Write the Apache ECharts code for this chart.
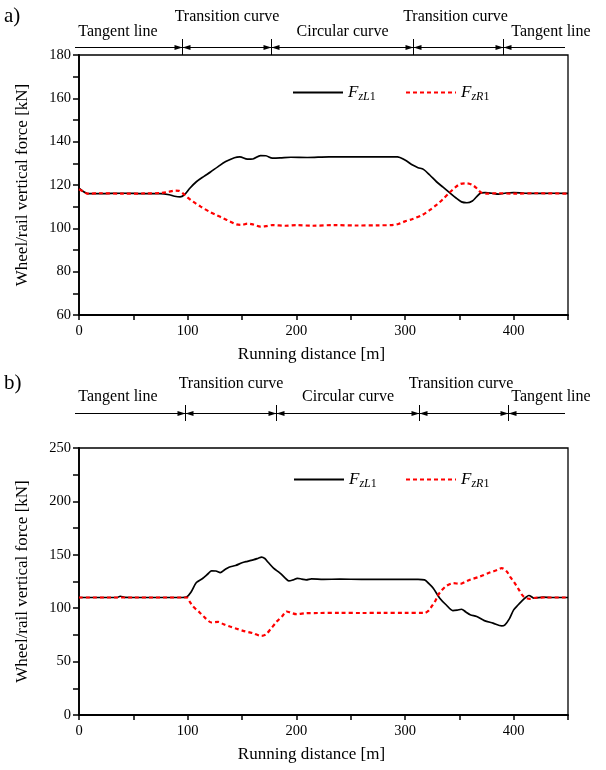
<!DOCTYPE html>
<html>
<head>
<meta charset="utf-8">
<script src="https://cdn.jsdelivr.net/npm/echarts@6/dist/echarts.min.js"></script>
<style>html,body{margin:0;padding:0;background:#fff}#c{width:606px;height:770px}</style>
</head>
<body>
<div id="c"></div>
<script>
// ---------- data ----------
var segmentNames = ['Tangent line', 'Transition curve', 'Circular curve', 'Transition curve', 'Tangent line'];
var boundsA = [95, 177, 307, 390];
var boundsB = [98, 181, 313, 395];

var xTicks = [0, 100, 200, 300, 400];
var yTicksA = [60, 80, 100, 120, 140, 160, 180];
var yTicksB = [0, 50, 100, 150, 200, 250];

var FzL1_a = [[0,118.5],[4,117],[8,116],[20,116],[40,116.2],[60,116],[75,116],[83,115.5],[88,114.8],[93,114.5],[97,115.5],[102,118.5],[108,121.5],[115,124],[121,126],[128,128.5],[135,130.8],[143,132.6],[148,133],[155,131.9],[160,132],[167,133.6],[172,133.5],[178,132.4],[185,132.5],[195,132.8],[210,132.7],[230,133],[250,133],[270,133],[285,133],[293,133],[300,131.5],[307,129.2],[312,128],[317,127.2],[323,124.5],[329,121.5],[335,119],[341,116.5],[347,114],[352,112.2],[357,111.8],[362,112.6],[366,114.6],[370,116.4],[374,116.5],[380,116.2],[386,115.8],[393,116.3],[400,116.5],[410,116.2],[420,116.1],[435,116.2],[450,116.1]];
var FzR1_a = [[0,118],[4,117],[8,116],[20,116.2],[40,116],[60,116.1],[75,116.3],[82,116.8],[88,117.4],[92,117.3],[96,116],[100,114.2],[105,112.3],[112,110],[120,107.7],[127,106],[133,104.6],[139,103.2],[145,101.8],[150,101.6],[155,102.2],[160,101.8],[167,100.8],[172,101],[178,101.5],[190,101.2],[200,101.5],[215,101.2],[235,101.5],[255,101.3],[275,101.4],[288,101.5],[294,102],[300,103.2],[307,104.3],[316,106.2],[323,108.5],[329,110.8],[335,113.5],[341,116.5],[346,118.8],[351,120.5],[357,120.8],[362,120],[366,118.5],[370,116.5],[375,116],[385,116.2],[400,116],[420,116.2],[450,116]];
var FzL1_b = [[0,110],[20,110],[35,110],[38,111.2],[42,110.2],[60,110],[80,110],[95,110],[99,110.5],[103,115],[108,124],[114,128],[119,132.5],[122,135],[126,134.8],[130,133.4],[134,136],[138,138.4],[144,140],[150,142.5],[155,143.9],[161,145.5],[165,146.8],[168,147.8],[171,146.5],[174,143],[179,137.5],[185,132.8],[190,128],[193,125.6],[197,126.5],[201,128],[205,127.3],[209,126.6],[214,127.5],[225,127],[240,127.2],[260,127],[280,127.1],[300,127],[312,127],[318,126.5],[322,123],[326,118.7],[332,109.4],[338,103],[344,97.8],[348,98.2],[352,99],[356,96.5],[360,93.8],[366,92.2],[373,88.4],[381,86],[389,83.4],[392,84.5],[396,90],[400,98.4],[404,103],[407,106.2],[411,110],[414,111.9],[419,109.4],[427,110.3],[435,110],[450,110]];
var FzR1_b = [[0,110],[50,110],[99,110],[102,106],[105,101.6],[111,96],[116,91],[122,86.6],[128,87.2],[133,85],[139,82.8],[145,80.8],[151,78.8],[160,76.6],[168,74],[172,75.5],[176,80],[182,87.5],[187,92.5],[191,96.9],[195,95.8],[200,94.4],[209,95.3],[220,95.5],[240,95.6],[260,95.5],[280,95.6],[300,95.6],[318,95.6],[322,98],[324.5,101.6],[328,107],[330.6,112.5],[334,117],[338.3,121],[344.4,123.4],[350.6,122.8],[355,124.5],[359.8,126.6],[369,129.7],[378,133.4],[385,135.8],[389,137.5],[393.6,134.4],[397,129],[401,123.4],[405,117],[409,111],[415,108.8],[420,109.8],[430,110],[450,110]];

// ---------- styles ----------
var FONT = 'Liberation Serif';
var chart = echarts.init(document.getElementById('c'), null, {renderer: 'canvas'});

function showIn(list) {
  return function (v) { return list.indexOf(v) >= 0 ? String(v) : ''; };
}
function xAxisCfg(gi) {
  return {
    type: 'value', gridIndex: gi, min: 0, max: 450, interval: 50,
    name: 'Running distance [m]', nameLocation: 'middle', nameGap: 31,
    nameTextStyle: {fontFamily: FONT, fontSize: 17, color: '#000', padding: [0, 24, 0, 0]},
    axisLine: {show: true, onZero: false, lineStyle: {color: '#000', width: 1.8}},
    axisTick: {show: true, inside: false, length: 5, lineStyle: {color: '#000', width: 1.5}},
    axisLabel: {fontFamily: FONT, fontSize: 14.5, color: '#000', margin: 9, formatter: showIn(xTicks)},
    splitLine: {show: false}
  };
}
function yAxisCfg(gi, min, max, interval, ticks) {
  return {
    type: 'value', gridIndex: gi, min: min, max: max, interval: interval,
    name: 'Wheel/rail vertical force [kN]', nameLocation: 'middle', nameGap: 48,
    nameTextStyle: {fontFamily: FONT, fontSize: 17, color: '#000', padding: [0, 0, 0, 0]},
    axisLine: {show: true, onZero: false, lineStyle: {color: '#000', width: 1.8}},
    axisTick: {show: true, inside: false, length: 6, lineStyle: {color: '#000', width: 1.5}},
    axisLabel: {fontFamily: FONT, fontSize: 14.5, color: '#000', margin: 8, formatter: showIn(ticks)},
    splitLine: {show: false}
  };
}
var rich = {
  f: {fontFamily: FONT, fontSize: 17, fontStyle: 'italic', color: '#000', lineHeight: 20},
  s: {fontFamily: FONT, fontSize: 12, fontStyle: 'italic', color: '#000', lineHeight: 12, padding: [9, 0, 0, 0]},
  n: {fontFamily: FONT, fontSize: 12, color: '#000', lineHeight: 12, padding: [9, 0, 0, 0]}
};
function legendFmt(name) {
  return name === 'FzL1' ? '{f|F}{s|zL}{n|1}' : '{f|F}{s|zR}{n|1}';
}
function legendCfg(name, left, top) {
  return {
    data: [name], left: left, top: top, orient: 'horizontal',
    itemWidth: 50, itemHeight: 14, itemGap: 6, selectedMode: false,
    itemStyle: {opacity: 0},
    formatter: legendFmt, textStyle: {rich: rich, padding: [0, 0, 0, 0]}
  };
}
function lineSeries(name, xi, data, dashed) {
  var col = dashed ? '#ff0000' : '#000000';
  return {
    name: name, type: 'line', xAxisIndex: xi, yAxisIndex: xi, data: data,
    symbol: 'none', smooth: 0.3, animation: false, color: col,
    itemStyle: {color: col},
    lineStyle: dashed ? {color: col, width: 2.2, type: [4, 3]} : {color: col, width: 1.7}
  };
}

chart.setOption({
  animation: false,
  backgroundColor: '#fff',
  grid: [
    {left: 79, top: 55, width: 489, height: 260, show: true, borderColor: '#000', borderWidth: 1.3, backgroundColor: 'transparent'},
    {left: 79, top: 448, width: 489, height: 267, show: true, borderColor: '#000', borderWidth: 1.3, backgroundColor: 'transparent'}
  ],
  xAxis: [xAxisCfg(0), xAxisCfg(1)],
  yAxis: [yAxisCfg(0, 60, 180, 10, yTicksA), yAxisCfg(1, 0, 250, 25, yTicksB)],
  legend: [
    legendCfg('FzL1', 287, 77), legendCfg('FzR1', 400, 77),
    legendCfg('FzL1', 288, 464), legendCfg('FzR1', 400, 464)
  ],
  series: [
    lineSeries('FzL1', 0, FzL1_a, false),
    lineSeries('FzR1', 0, FzR1_a, true),
    lineSeries('FzL1', 1, FzL1_b, false),
    lineSeries('FzR1', 1, FzR1_b, true)
  ]
});

// ---------- annotations (positions from the axis scale) ----------
function annot(xi, bounds, lineY, barTop, barBot, yLow, yHigh, leftPx, rightPx, tanLeftX, tanRightX) {
  var els = [];
  var px = bounds.map(function (b) { return Math.round(chart.convertToPixel({xAxisIndex: xi}, b)) + 0.5; });
  var st = {stroke: '#000', lineWidth: 1};
  els.push({type: 'line', shape: {x1: leftPx, y1: lineY, x2: rightPx, y2: lineY}, style: st, silent: true});
  px.forEach(function (p) {
    els.push({type: 'line', shape: {x1: p, y1: barTop, x2: p, y2: barBot}, style: {stroke: '#000', lineWidth: 1}, silent: true});
    els.push({type: 'polygon', shape: {points: [[p, lineY], [p - 8, lineY - 2.6], [p - 8, lineY + 2.6]]}, style: {fill: '#000'}, silent: true});
    els.push({type: 'polygon', shape: {points: [[p, lineY], [p + 8, lineY - 2.6], [p + 8, lineY + 2.6]]}, style: {fill: '#000'}, silent: true});
  });
  var xs = [tanLeftX, (px[0] + px[1]) / 2, (px[1] + px[2]) / 2, (px[2] + px[3]) / 2 - 3, tanRightX];
  var ys = [yLow, yHigh, yLow, yHigh, yLow];
  segmentNames.forEach(function (n, i) {
    els.push({type: 'text', x: xs[i], y: ys[i], silent: true,
      style: {text: n, fontFamily: FONT, fontSize: 16, fill: '#000', align: 'center', verticalAlign: 'middle'}});
  });
  return els;
}
var g = [];
g = g.concat(annot(0, boundsA, 47.5, 39, 55, 32, 17, 75, 565, 118, 551));
g = g.concat(annot(1, boundsB, 413.5, 405, 421, 397, 384, 75, 565, 118, 551));
g.push({type: 'text', x: 4, y: 16, style: {text: 'a)', fontFamily: FONT, fontSize: 21, fill: '#000', verticalAlign: 'middle'}});
g.push({type: 'text', x: 4, y: 383, style: {text: 'b)', fontFamily: FONT, fontSize: 21, fill: '#000', verticalAlign: 'middle'}});
chart.setOption({graphic: g});
</script>
</body>
</html>
